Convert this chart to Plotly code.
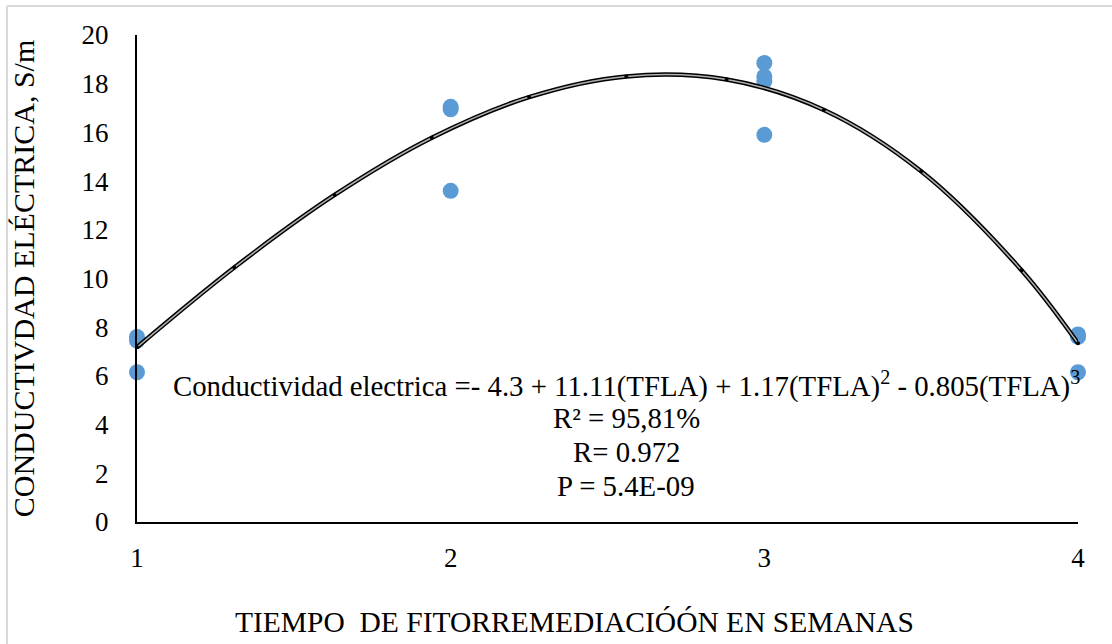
import plotly.graph_objects as go

# Observed data (semanas, conductividad)
obs_x = [1, 1, 1, 2, 2, 2, 3, 3, 3, 3, 4, 4, 4]
obs_y = [7.6, 7.45, 6.15, 17.05, 16.95, 13.6, 18.85, 18.3, 18.1, 15.9, 7.7, 7.6, 6.15]

# Fitted curve points
fit_x = [1, 1.31, 1.63, 1.94, 2.25, 2.56, 2.88, 3.19, 3.5, 3.82, 4]
fit_y = [7.18, 10.45, 13.43, 15.78, 17.45, 18.30, 18.17, 16.92, 14.40, 10.34, 7.34]

y_ticks = [0, 2, 4, 6, 8, 10, 12, 14, 16, 18, 20]
x_ticks = [1, 2, 3, 4]

FONT = "Times New Roman, Liberation Serif, serif"
L, R, T, B = 137, 1078, 35, 522
PW, PH = R - L, B - T

fig = go.Figure()
fig.add_trace(go.Scatter(x=obs_x, y=obs_y, mode="markers",
                         marker=dict(color="#5b9bd5", size=16),
                         cliponaxis=False, showlegend=False))
fig.add_trace(go.Scatter(x=fit_x, y=fit_y, mode="lines",
                         line=dict(color="black", width=4.5, shape="spline"),
                         cliponaxis=False, showlegend=False))
fig.add_trace(go.Scatter(x=fit_x, y=fit_y, mode="lines+markers",
                         line=dict(color="#b0b0b0", width=1.5, shape="spline"),
                         marker=dict(color="black", size=4),
                         cliponaxis=False, showlegend=False))

lines = [
    "Conductividad electrica =- 4.3 + 11.11(TFLA) + 1.17(TFLA)<sup>2</sup> - 0.805(TFLA)<sup>3</sup>",
    "R² = 95,81%",
    "R= 0.972",
    "P = 5.4E-09",
]
ys = [384, 418, 452, 486]
for t, yp in zip(lines, ys):
    fig.add_annotation(text=t, xref="paper", yref="paper",
                       x=(626 - L) / PW,
                       y=(B - yp) / PH,
                       xanchor="center", yanchor="middle", showarrow=False,
                       font=dict(family=FONT, size=28.8, color="black"))

# x-axis title (placed as in the reference, left of plot centre)
fig.add_annotation(text="TIEMPO  DE FITORREMEDIACIÓÓN EN SEMANAS",
                   xref="paper", yref="paper",
                   x=(574 - L) / PW, y=(B - 622) / PH,
                   xanchor="center", yanchor="middle", showarrow=False,
                   font=dict(family=FONT, size=29.5, color="black"))

# frame border (light gray, left and top)
fig.add_shape(type="line", xref="paper", yref="paper",
              x0=(7 - L) / PW, x1=(7 - L) / PW,
              y0=(B - 6) / PH, y1=(B - 650) / PH,
              line=dict(color="#d9d9d9", width=2))
fig.add_shape(type="line", xref="paper", yref="paper",
              x0=(7 - L) / PW, x1=(1120 - L) / PW,
              y0=(B - 6) / PH, y1=(B - 6) / PH,
              line=dict(color="#d9d9d9", width=2))

fig.update_layout(
    width=1112, height=644,
    margin=dict(l=L, r=1112 - R, t=T, b=644 - B),
    paper_bgcolor="white", plot_bgcolor="white",
    font=dict(family=FONT, size=28, color="black"),
)
fig.update_xaxes(range=[1, 4], tickvals=x_ticks, showgrid=False, zeroline=False,
                 showline=True, linecolor="black", linewidth=2, ticks="",
                 ticklabelstandoff=11,
                 tickfont=dict(family=FONT, size=27))
fig.update_yaxes(range=[0, 20], tickvals=y_ticks, showgrid=False, zeroline=False,
                 showline=True, linecolor="black", linewidth=2, ticks="",
                 ticklabelstandoff=21,
                 tickfont=dict(family=FONT, size=27),
                 title=dict(text="CONDUCTIVDAD ELÉCTRICA, S/m",
                            font=dict(family=FONT, size=30), standoff=38))

fig.write_html("out.html", config={"displayModeBar": False},
               post_script="document.body.style.margin='0';document.body.style.padding='0';")
